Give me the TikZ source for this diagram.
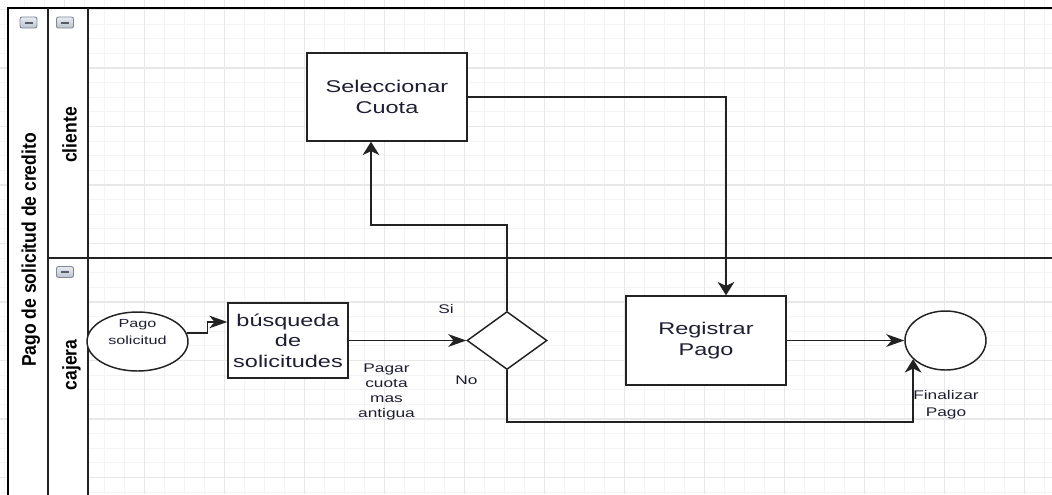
\documentclass[tikz,border=0pt]{standalone}
\usepackage{fontspec}
\setmainfont{Liberation Sans}
\newfontfamily\wfont[FakeStretch=1.38]{Liberation Sans}
\newfontfamily\vfont[FakeStretch=0.885]{Liberation Sans}
\usetikzlibrary{arrows.meta,shapes.geometric,calc}
\definecolor{ink}{HTML}{222222}
\definecolor{txt}{HTML}{1E1E32}
\definecolor{gmin}{HTML}{F4F4F4}
\definecolor{gmaj}{HTML}{E8E8E8}
\definecolor{icontop}{HTML}{E9ECF0}
\definecolor{iconbot}{HTML}{BCC3CD}
\definecolor{iconedge}{HTML}{7F8A99}
\definecolor{icondk}{HTML}{555D69}
\begin{document}
\begin{tikzpicture}[x=0.75pt,y=-0.75pt,
  gridmin/.style={draw=gmin,line width=0.8pt},
  gridmaj/.style={draw=gmaj,line width=0.9pt},
  box/.style={draw=ink,line width=1.1pt,fill=white,rectangle,inner sep=0pt,align=center,text=txt,
    font=\wfont\fontsize{12.75}{15.4}\selectfont},
  evt/.style={draw=ink,line width=1.1pt,fill=white,ellipse,inner sep=0pt},
  gate/.style={draw=ink,line width=1.1pt,fill=white,diamond,inner sep=0pt,minimum width=60pt,minimum height=43.5pt},
  ltxt/.style={inner sep=0pt,align=center,text=txt,font=\wfont\fontsize{9.4}{11.4}\selectfont},
  vtxt/.style={inner sep=0pt,rotate=90,anchor=base,text=black,font=\vfont\bfseries\fontsize{14.85}{17}\selectfont},
  hline/.style={line width=1.2pt,draw=ink},
  harrow/.style={draw=ink,line width=1.1pt,-{Stealth[length=13.5pt,width=9.5pt,inset=4pt]}},
  varrow/.style={draw=ink,line width=1.1pt,-{Stealth[length=10pt,width=12.5pt,inset=3pt]}},
  icon/.style={draw=iconedge,line width=0.7pt,top color=icontop,bottom color=iconbot,rounded corners=1.5pt},
  icondash/.style={draw=icondk,line width=1.5pt}
]
\useasboundingbox (0,0) rectangle (1052,494);
\clip (0,0) rectangle (1052,494);
\fill[white] (0,0) rectangle (1052,494);
% grid
\foreach \xx in {4.5,24.5,...,1044.5} \draw[gridmin] (\xx,0) -- (\xx,494);
\foreach \yy in {9.5,24.125,...,494} \draw[gridmin] (0,\yy) -- (1052,\yy);
\foreach \xx in {64.5,144.5,...,1044.5} \draw[gridmaj] (\xx,0) -- (\xx,494);
\foreach \yy in {9.5,68,...,494} \draw[gridmaj] (0,\yy) -- (1052,\yy);
% pool and lanes
\fill[white] (8,8) rectangle (88,500);
\draw[line width=1.5pt,black] (8,500) -- (8,8) -- (1060,8);
\draw[hline] (48,8) -- (48,500);
\draw[hline] (88,8) -- (88,500);
\draw[hline] (48,258) -- (1060,258);
% collapse icons
\draw[icon] (20,17) rectangle (37,28);
\draw[icondash] (24.5,22.5) -- (32.5,22.5);
\draw[icon] (56.5,17) rectangle (73.5,28);
\draw[icondash] (61,22.5) -- (69,22.5);
\draw[icon] (56.5,266.5) rectangle (73.5,277.5);
\draw[icondash] (61,272) -- (69,272);
% header labels
\node[vtxt] (pool) at (36,250) {Pago de solicitud de credito};
\node[vtxt] (lcli) at (76.7,135) {cliente};
\node[vtxt] (lcaj) at (76.7,365) {cajera};
% shapes
\node[box,minimum width=120pt,minimum height=66pt] (sel) at (387,97) {Seleccionar\\Cuota};
\node[box,minimum width=90pt,minimum height=56.25pt] (bus) at (288,340.5) {búsqueda\\de\\solicitudes};
\node[box,minimum width=120pt,minimum height=66.75pt] (reg) at (706,340.5) {Registrar\\Pago};
\node[evt,minimum width=75.75pt,minimum height=44.25pt,
  label={[ltxt,font=\wfont\fontsize{8.8}{13}\selectfont,yshift=7.1pt]center:Pago\\solicitud}] (start) at (137.5,341.5) {};
\node[gate] (dia) at (507,340.5) {};
\node[evt,minimum width=60.75pt,minimum height=44.25pt] (endev) at (945.5,340.5) {};
% labels
\node[ltxt] (lsi) at (446,309) {Si};
\node[ltxt] (lno) at (466.5,380) {No};
\node[ltxt] (lpag) at (386.5,392) {Pagar\\cuota\\mas\\antigua};
\node[ltxt,font=\wfont\fontsize{9.4}{12.4}\selectfont] (lfin) at (946,405) {Finalizar\\Pago};
% connectors
\coordinate (b1) at (0,422);
\draw[harrow] (start.10) -- ++(21,0) |- ([yshift=13.9pt]bus.west);
\draw[harrow] (bus.east) -- (dia.west);
\draw[varrow] (dia.north) -- ++(0,-86) -| ([xshift=-12pt]sel.south);
\draw[varrow] (sel.east) -| ([xshift=15pt]reg.north);
\draw[harrow] (reg.east) -- (endev.west);
\draw[varrow] (dia.south) |- (endev.210 |- b1) -- (endev.210);
\end{tikzpicture}
\end{document}
